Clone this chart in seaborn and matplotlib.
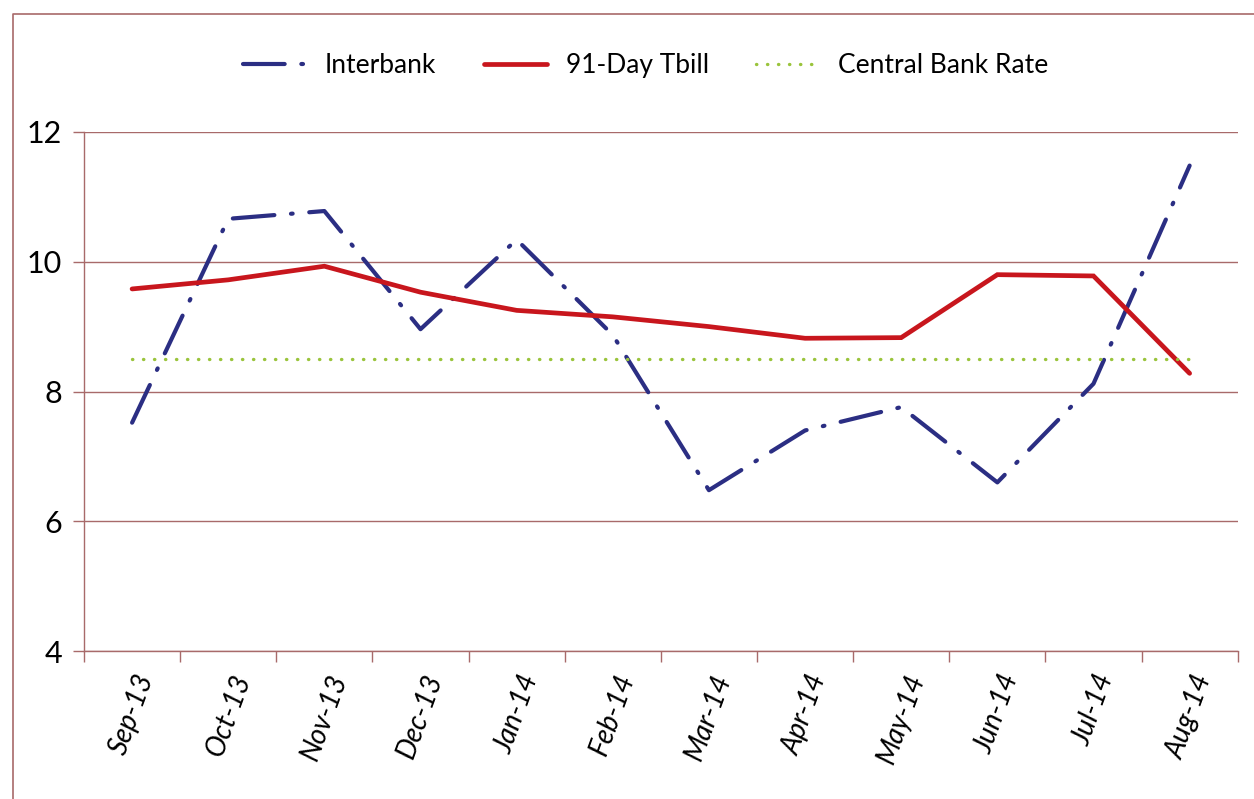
import pandas as pd
import matplotlib.pyplot as plt
import matplotlib.lines as mlines
import seaborn as sns

# Данные
months = ['Sep-13', 'Oct-13', 'Nov-13', 'Dec-13', 'Jan-14', 'Feb-14',
          'Mar-14', 'Apr-14', 'May-14', 'Jun-14', 'Jul-14', 'Aug-14']
interbank = [7.52, 10.66, 10.78, 8.96, 10.34, 8.87, 6.48, 7.40, 7.76, 6.60, 8.12, 11.48]
tbill = [9.58, 9.72, 9.93, 9.53, 9.25, 9.15, 9.00, 8.82, 8.83, 9.80, 9.78, 8.28]
cbr = [8.5] * 12

navy = '#2b2e83'
red = '#c8161d'
green = '#9ac43c'
grid_col = '#a86a6a'

sns.set_theme(style='white')
plt.rcParams['font.family'] = ['Lato', 'DejaVu Sans']
plt.rcParams['text.color'] = 'black'

df = pd.DataFrame({'pos': range(len(months)), 'Interbank': interbank,
                   '91-Day Tbill': tbill, 'Central Bank Rate': cbr})

fig = plt.figure(figsize=(12.54, 7.99), dpi=100)
ax = fig.add_axes([0.067, 0.185, 0.92, 0.65])

sns.lineplot(data=df, x='pos', y='Interbank', ax=ax, color=navy, lw=3,
             dashes=False, legend=False)
ax.lines[-1].set_dashes([10, 4, 0.4, 4])
ax.lines[-1].set_dash_capstyle('round')
sns.lineplot(data=df, x='pos', y='91-Day Tbill', ax=ax, color=red, lw=3.4,
             legend=False)
ax.lines[-1].set_solid_joinstyle('miter')
sns.lineplot(data=df, x='pos', y='Central Bank Rate', ax=ax, color=green,
             lw=2.4, legend=False)
ax.lines[-1].set_dashes([0.1, 3.2])
ax.lines[-1].set_dash_capstyle('round')

ax.set_xlim(-0.5, len(months) - 0.5)
ax.set_ylim(4, 12)
ax.set_yticks([4, 6, 8, 10, 12])
ax.set_xticks(range(len(months)))
ax.set_xticklabels(months, rotation=70, ha='center', fontsize=20,
                   style='italic', color='black')
ax.set_xticks([i - 0.5 for i in range(len(months) + 1)], minor=True)
ax.tick_params(axis='x', which='major', length=0, pad=14)
ax.tick_params(axis='x', which='minor', length=8, color=grid_col, width=1,
               direction='out', bottom=True)
ax.tick_params(axis='y', length=8, color=grid_col, width=1, direction='out',
               left=True, labelsize=22, pad=8, labelcolor='black')
ax.set_xlabel('')
ax.set_ylabel('')

ax.grid(axis='y', color=grid_col, lw=1)
for s in ['top', 'right']:
    ax.spines[s].set_visible(False)
for s in ['left', 'bottom']:
    ax.spines[s].set_color(grid_col)
    ax.spines[s].set_linewidth(1)

# Легенда
h1 = mlines.Line2D([], [], color=navy, lw=3, dashes=[10, 4, 0.4, 4],
                   dash_capstyle='round')
h2 = mlines.Line2D([], [], color=red, lw=3.4)
h3 = mlines.Line2D([], [], color=green, lw=2.4, dashes=[0.1, 3.2],
                   dash_capstyle='round')
fig.legend([h1, h2, h3], ['Interbank', '91-Day Tbill', 'Central Bank Rate'],
           loc='center', bbox_to_anchor=(0.515, 0.918), ncol=3, frameon=False,
           fontsize=19, handlelength=2.4, columnspacing=1.8, handletextpad=0.7)

# Рамка вокруг графика
fig.add_artist(mlines.Line2D([13 / 1254, 13 / 1254, 1], [0, 1 - 14 / 799, 1 - 14 / 799],
                             transform=fig.transFigure, color=grid_col, lw=1.2))

fig.savefig('out.png', dpi=100)
